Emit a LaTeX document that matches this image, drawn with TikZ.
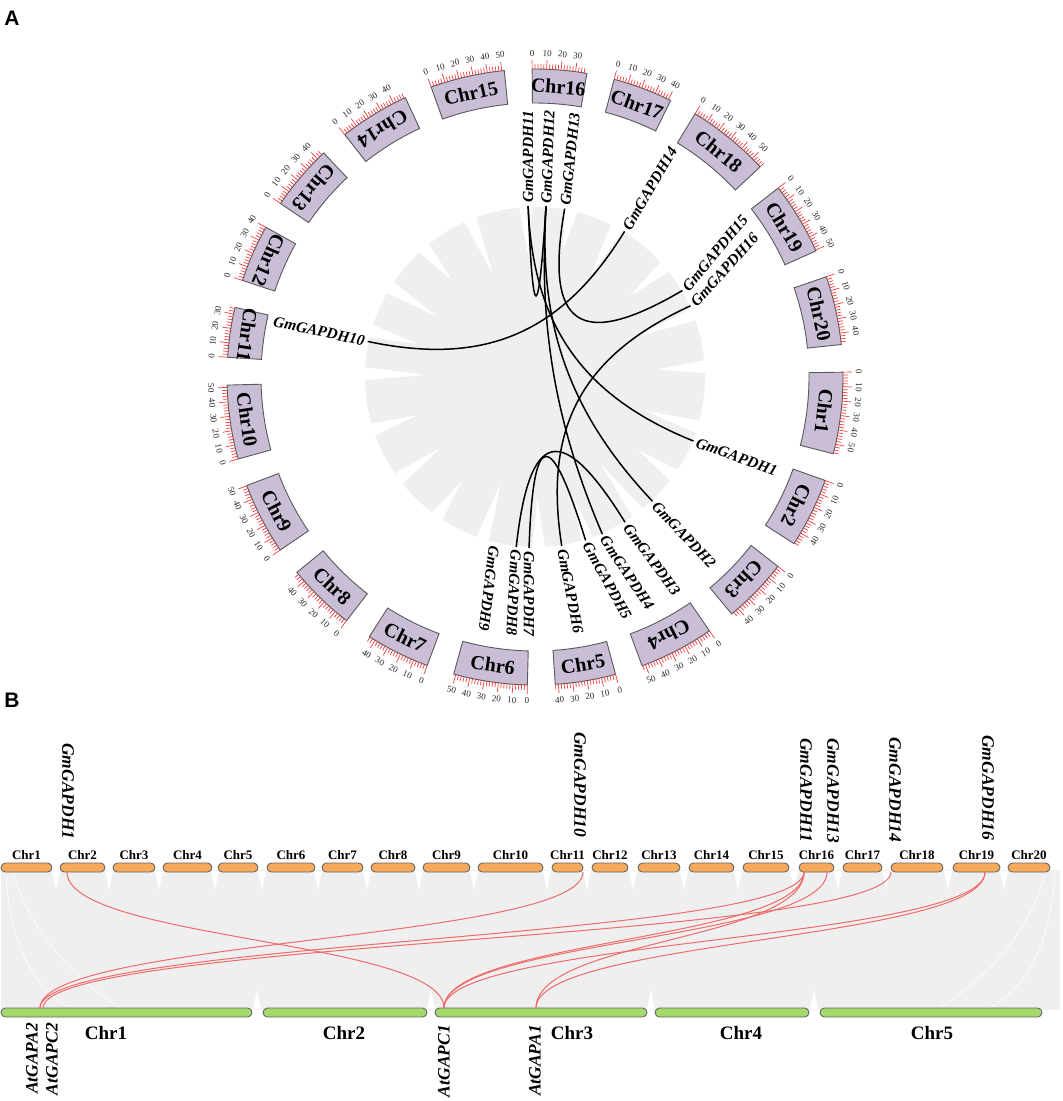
\documentclass[tikz,border=0pt]{standalone}
\usepackage{fontspec}
\setmainfont{Liberation Serif}
\setsansfont{Liberation Sans}
\usetikzlibrary{calc}

\definecolor{boxfill}{HTML}{C9BED6}
\definecolor{tickred}{HTML}{EE3B3B}
\definecolor{ribgray}{HTML}{EFEFEF}
\definecolor{gmorange}{HTML}{F7A95C}
\definecolor{atgreen}{HTML}{A5D96B}
\definecolor{pairred}{HTML}{F06A6A}

\tikzset{
  chrbox/.style={fill=boxfill,draw=black!65,line width=0.9pt},
  chrname/.style={font=\fontsize{20}{20}\selectfont\bfseries,inner sep=0pt},
  tickmark/.style={draw=tickred,line width=0.7pt},
  ticklab/.style={font=\fontsize{9}{9}\selectfont,inner sep=0pt,text=black!85},
  genelab/.style={font=\fontsize{15.5}{15.5}\selectfont\bfseries\itshape,inner sep=0pt},
  dup/.style={draw=black,line width=1.5pt},
  gmbar/.style={fill=gmorange,draw=black!60,line width=0.9pt,rounded corners=4.5pt},
  atbar/.style={fill=atgreen,draw=black!60,line width=0.9pt,rounded corners=4.5pt},
  gmname/.style={font=\fontsize{13}{13}\selectfont\bfseries,inner sep=0pt},
  atname/.style={font=\fontsize{19}{19}\selectfont\bfseries,inner sep=0pt},
  pairlab/.style={font=\fontsize{17.5}{17.5}\selectfont\bfseries\itshape,inner sep=0pt},
  syn/.style={draw=pairred,line width=1pt},
  streak/.style={draw=white,line width=0.6pt},
  panel/.style={font=\sffamily\bfseries\fontsize{21}{21}\selectfont,inner sep=0pt}
}

\begin{document}
\begin{tikzpicture}[x=1pt,y=1pt]
\useasboundingbox (0,0) rectangle (1063,-1101);
\node[panel] (pa) at (12,-18) {A};
\node[panel] (pb) at (12,-700) {B};

% A: circos of soybean chromosomes
\begin{scope}[shift={(535,-377)}]
\fill[ribgray] (0,0) circle[radius=170pt];
\foreach \wa/\dep in {-17/115,-35.3/125,-52.9/110,-72.2/130,-88.8/120,-107.9/112,-125.1/128,-143.2/118,-162/125,178.9/110,164.3/122,148.3/115,130.7/128,112.3/112,93.1/120,77.7/130,61.3/115,40.4/125,21.6/112,3.5/122}
  \fill[white] ({\wa-2.2}:171pt) -- (\wa:\dep pt) -- ({\wa+2.2}:171pt) -- cycle;

\foreach \nn/\st/\len in {1/0.9/56.8, 2/-19.63/48.6, 3/-37.94/45.8, 4/-55.50/52.4, 5/-74.84/42.2, 6/-91.42/51.4, 7/-110.49/44.6, 8/-127.72/47.8, 9/-145.82/50.2, 10/-164.56/51.6, 11/176.32/34.8, 12/161.73/40.1, 13/145.71/45.9, 14/128.13/49.0, 15/109.71/51.8, 16/90.53/37.9, 17/75.11/41.6, 18/58.69/58.0, 19/37.84/50.6, 20/18.99/47.9}{
  \pgfmathsetmacro\en{\st-0.27*\len}
  \pgfmathsetmacro\mid{(\st+\en)/2}
  \draw[chrbox] (\st:274pt) arc[start angle=\st,end angle=\en,radius=274pt]
    -- (\en:308pt) arc[start angle=\en,end angle=\st,radius=308pt] -- cycle;
  \pgfmathsetmacro\rn{(\mid>-70 && \mid<=110) ? \mid-90 : \mid+90}
  \node[chrname,rotate=\rn] (chr\nn) at (\mid:291pt) {Chr\nn};
  \pgfmathtruncatemacro\nt{\len/2}
  \foreach \kk in {0,...,\nt}{
    \pgfmathsetmacro\ta{\st-0.54*\kk}
    \pgfmathtruncatemacro\mk{mod(\kk,5)}
    \ifnum\mk=0
      \draw[tickmark] (\ta:308pt) -- (\ta:317pt);
      \pgfmathtruncatemacro\val{2*\kk}
      \pgfmathsetmacro\rt{(\mid>-20 && \mid<180) ? \ta-90 : \ta+90}
      \node[ticklab,rotate=\rt] (tk\nn-\kk) at (\ta:324pt) {\val};
    \else
      \draw[tickmark] (\ta:308pt) -- (\ta:313pt);
    \fi
  }
}

\foreach \gg/\ang/\rot/\an in {1/-22/-20/west, 2/-46.6/-46.7/west, 3/-58.2/-54/west, 4/-66.8/-56.5/west, 5/-72.8/-61/west, 6/-81/-79/west, 7/-92/-90/west, 8/-96.3/-93/west, 9/-103.6/-97/west, 10/168/-12/east, 11/92.3/90/west, 12/86.3/88/west, 13/80/84/west, 14/58.4/59.5/west, 15/30.4/50/west, 16/24.6/48/west}{
  \coordinate (g\gg) at (\ang:171pt);
  \node[genelab,anchor=\an,rotate=\rot] (lab\gg) at (\ang:174pt) {GmGAPDH\gg};
}

\foreach \pp/\qq in {10/14, 11/12, 11/1, 12/2, 12/4, 13/15, 16/6, 8/3, 7/5}
  \draw[dup] (g\pp) .. controls ($(g\pp)!0.7!(0,0)$) and ($(g\qq)!0.7!(0,0)$) .. (g\qq);
\end{scope}

% B: soybean vs arabidopsis
\fill[ribgray] (1,-870) rectangle (1060,-1010);
\foreach \xg in {56,109,159,215,262,318,367,419,474,547,587,633,684,738,794,838,886,948,1004}
  \fill[white] (\xg-4,-871) -- (\xg,-890) -- (\xg+4,-871) -- cycle;
\foreach \xg in {257,431,651,814}
  \fill[white] (\xg-4,-1009) -- (\xg,-990) -- (\xg+4,-1009) -- cycle;
\draw[streak] (6,-875) .. controls (10,-940) and (30,-985) .. (70,-1008);
\draw[streak] (14,-875) .. controls (30,-930) and (70,-975) .. (120,-1008);
\draw[streak] (1055,-875) .. controls (1050,-940) and (1030,-985) .. (990,-1008);
\draw[streak] (1045,-875) .. controls (1030,-930) and (990,-975) .. (940,-1008);

\foreach \nn/\xa/\xb in {1/1/52, 2/60/105, 3/113/155, 4/163/212, 5/218/258, 6/267/315, 7/322/363, 8/371/415, 9/423/470, 10/478/543, 11/552/583, 12/592/628, 13/638/680, 14/689/734, 15/743/789, 16/799/834, 17/843/882, 18/891/943, 19/953/1000, 20/1008/1050}{
  \draw[gmbar] (\xa,-863) rectangle (\xb,-872);
  \node[gmname] (gm\nn) at ({(\xa+\xb)/2},-855) {Chr\nn};
}
\foreach \nn/\xa/\xb/\xl in {1/1/252/106, 2/263/427/344, 3/435/647/572, 4/655/809/741, 5/820/1042/932}{
  \draw[atbar] (\xa,-1008) rectangle (\xb,-1017);
  \node[atname] (at\nn) at (\xl,-1033) {Chr\nn};
}

\coordinate (p1) at (67,-872);
\coordinate (p10) at (583,-872);
\coordinate (p11) at (804,-872);
\coordinate (p13) at (827,-872);
\coordinate (p14) at (891,-872);
\coordinate (p16) at (985,-872);
\coordinate (qa2) at (40,-1008);
\coordinate (qc2) at (43,-1008);
\coordinate (qc1) at (444,-1008);
\coordinate (qa1) at (536,-1008);
\foreach \uu/\vv in {p1/qc1, p10/qa2, p11/qa2, p14/qc2, p11/qc1, p13/qc1, p16/qc1, p16/qa1, p11/qa1}
  \draw[syn] (\uu) .. controls +(0,-68) and +(0,68) .. (\vv);

\node[pairlab,rotate=-90,anchor=west] (t1) at (68,-743) {GmGAPDH1};
\node[pairlab,rotate=-90,anchor=west] (t10) at (580,-732) {GmGAPDH10};
\node[pairlab,rotate=-90,anchor=west] (t11) at (806,-738) {GmGAPDH11};
\node[pairlab,rotate=-90,anchor=west] (t13) at (833,-738) {GmGAPDH13};
\node[pairlab,rotate=-90,anchor=west] (t14) at (895,-737) {GmGAPDH14};
\node[pairlab,rotate=-90,anchor=west] (t16) at (988,-735) {GmGAPDH16};
\node[pairlab,rotate=90,anchor=east] (a2) at (32,-1023) {AtGAPA2};
\node[pairlab,rotate=90,anchor=east] (c2) at (52,-1023) {AtGAPC2};
\node[pairlab,rotate=90,anchor=east] (c1) at (444,-1025) {AtGAPC1};
\node[pairlab,rotate=90,anchor=east] (a1) at (535,-1025) {AtGAPA1};
\end{tikzpicture}
\end{document}
